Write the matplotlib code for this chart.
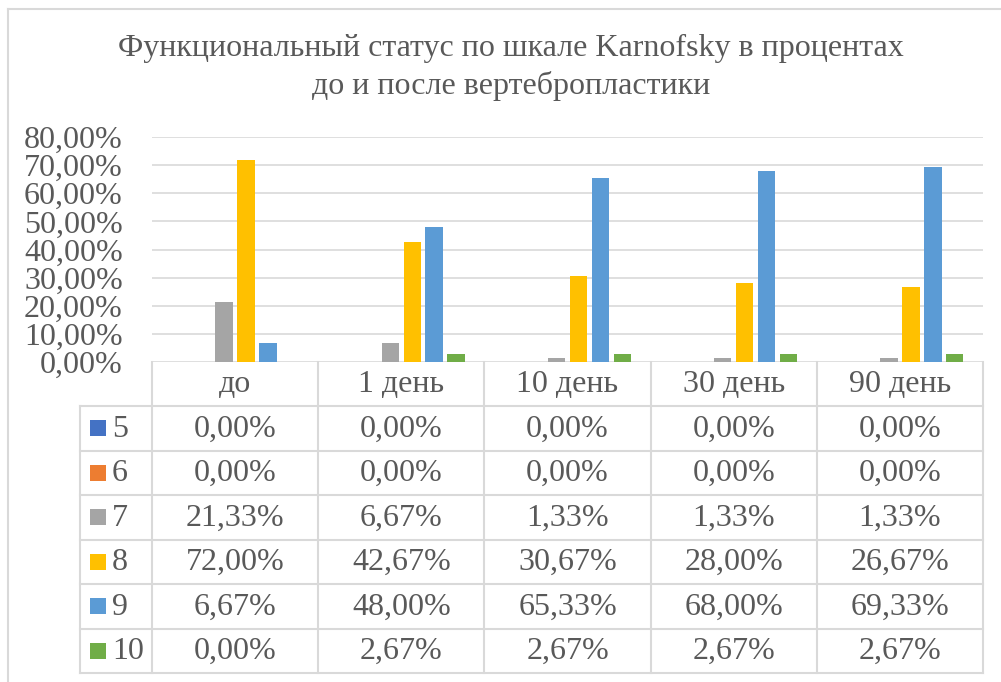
import matplotlib
matplotlib.use('Agg')
import matplotlib.pyplot as plt
from matplotlib.ticker import FuncFormatter

plt.rcParams['font.family'] = ['Liberation Serif', 'DejaVu Serif']

# data
categories = ['до', '1 день', '10 день', '30 день', '90 день']
series_names = ['5', '6', '7', '8', '9', '10']
s5 = [0.00, 0.00, 0.00, 0.00, 0.00]
s6 = [0.00, 0.00, 0.00, 0.00, 0.00]
s7 = [21.33, 6.67, 1.33, 1.33, 1.33]
s8 = [72.00, 42.67, 30.67, 28.00, 26.67]
s9 = [6.67, 48.00, 65.33, 68.00, 69.33]
s10 = [0.00, 2.67, 2.67, 2.67, 2.67]
all_series = [s5, s6, s7, s8, s9, s10]
colors = ['#4472C4', '#ED7D31', '#A5A5A5', '#FFC000', '#5B9BD5', '#70AD47']

title_lines = ['Функциональный статус по шкале Karnofsky в процентах',
               'до и после вертебропластики']
text_color = '#595959'
grid_color = '#D9D9D9'
fs = 23


def pct(v):
    return f'{v:.2f}%'.replace('.', ',')


W, H = 1001, 682
fig = plt.figure(figsize=(W / 100, H / 100), dpi=100)

# plot area in pixels
left, right, top, bottom = 152, 983, 137, 362
ax = fig.add_axes([left / W, 1 - bottom / H, (right - left) / W, (bottom - top) / H])

step = 0.132
bar_w = 0.105
n = len(all_series)
for i, vals in enumerate(all_series):
    xs = [c + (i - (n - 1) / 2) * step for c in range(len(categories))]
    ax.bar(xs, vals, width=bar_w, color=colors[i], linewidth=0, zorder=3)

ax.set_xlim(-0.5, len(categories) - 0.5)
ax.set_ylim(0, 80)
ax.set_yticks(range(0, 81, 10))
ax.yaxis.set_major_formatter(FuncFormatter(lambda v, p: pct(v)))
ax.tick_params(axis='y', length=0, pad=21, labelsize=fs, labelcolor=text_color)
ax.set_xticks([])
ax.grid(axis='y', color=grid_color, linewidth=1.2, zorder=0)
for sp in ax.spines.values():
    sp.set_visible(False)

# overlay in pixel coords for table, title and border
ov = fig.add_axes([0, 0, 1, 1], facecolor='none')
ov.set_xlim(0, W)
ov.set_ylim(H, 0)
ov.axis('off')

# outer chart border
ov.plot([8, 8], [9, H + 5], color=grid_color, lw=1.5, clip_on=False)
ov.plot([8, W + 5], [9, 9], color=grid_color, lw=1.5, clip_on=False)

ov.text(511, 48, title_lines[0], ha='center', va='center', fontsize=fs, color=text_color)
ov.text(511, 86, title_lines[1], ha='center', va='center', fontsize=fs, color=text_color)

# data table
col_w = (right - left) / len(categories)
col_edges = [left + k * col_w for k in range(len(categories) + 1)]
key_left = 80
head_bottom = 406
row_h = (673 - head_bottom) / len(series_names)
row_edges = [head_bottom + k * row_h for k in range(len(series_names) + 1)]

lw = 1.5
for x in col_edges:
    ov.plot([x, x], [bottom, row_edges[-1]], color=grid_color, lw=lw)
ov.plot([key_left, key_left], [head_bottom, row_edges[-1]], color=grid_color, lw=lw)
for y in row_edges:
    ov.plot([key_left, right], [y, y], color=grid_color, lw=lw)

for j, cat in enumerate(categories):
    ov.text((col_edges[j] + col_edges[j + 1]) / 2, (bottom + head_bottom) / 2 + 1, cat,
            ha='center', va='center', fontsize=fs, color=text_color)

for i, (name, vals) in enumerate(zip(series_names, all_series)):
    yc = (row_edges[i] + row_edges[i + 1]) / 2
    ov.add_patch(plt.Rectangle((90, yc - 8), 16, 16, color=colors[i], lw=0))
    ov.text(112, yc + 1, name, ha='left', va='center', fontsize=fs, color=text_color)
    for j, v in enumerate(vals):
        ov.text((col_edges[j] + col_edges[j + 1]) / 2, yc + 1, pct(v),
                ha='center', va='center', fontsize=fs, color=text_color)

fig.savefig('out.png', dpi=100)
